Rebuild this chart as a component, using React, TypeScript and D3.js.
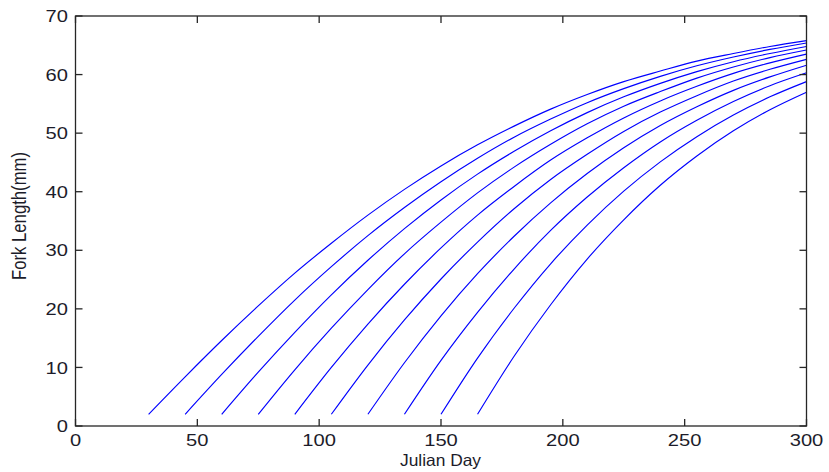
import React from "react";
import * as d3 from "d3";

// Julian day grid shared by all curves
const days = [30, 45, 60, 75, 90, 105, 120, 135, 150, 165, 180, 195, 210, 225, 240, 255, 270, 285, 300];

// Start day of each cohort
const startDays = [30, 45, 60, 75, 90, 105, 120, 135, 150, 165];

// Fork length (mm) of each cohort on the day grid, beginning at its start day
const cohort030 = [2, 8.4, 14.6, 20.5, 26.1, 31.2, 36.0, 40.4, 44.4, 48.0, 51.2, 54.1, 56.6, 58.8, 60.6, 62.3, 63.6, 64.8, 65.8];
const cohort045 = [2, 8.8, 15.3, 21.5, 27.2, 32.5, 37.3, 41.7, 45.7, 49.3, 52.4, 55.2, 57.6, 59.7, 61.5, 63.0, 64.3, 65.4];
const cohort060 = [2, 9.2, 16.0, 22.4, 28.3, 33.7, 38.6, 43.0, 46.9, 50.4, 53.5, 56.2, 58.5, 60.5, 62.2, 63.6, 64.8];
const cohort075 = [2, 9.6, 16.7, 23.3, 29.4, 34.8, 39.8, 44.2, 48.1, 51.6, 54.6, 57.1, 59.4, 61.3, 62.9, 64.2];
const cohort090 = [2, 10.0, 17.4, 24.2, 30.4, 36.0, 40.9, 45.4, 49.2, 52.6, 55.5, 58.0, 60.2, 62.0, 63.5];
const cohort105 = [2, 10.4, 18.1, 25.1, 31.4, 37.1, 42.1, 46.4, 50.3, 53.6, 56.4, 58.9, 60.9, 62.6];
const cohort120 = [2, 10.8, 18.8, 26.0, 32.4, 38.1, 43.1, 47.5, 51.3, 54.5, 57.3, 59.6, 61.6];
const cohort135 = [2, 11.2, 19.4, 26.8, 33.4, 39.1, 44.1, 48.5, 52.2, 55.4, 58.1, 60.3];
const cohort150 = [2, 11.6, 20.1, 27.7, 34.3, 40.1, 45.1, 49.4, 53.1, 56.2, 58.8];
const cohort165 = [2, 11.9, 20.7, 28.5, 35.2, 41.1, 46.1, 50.4, 54.0, 57.0];

const cohorts = [cohort030, cohort045, cohort060, cohort075, cohort090, cohort105, cohort120, cohort135, cohort150, cohort165];

const xTicks = [0, 50, 100, 150, 200, 250, 300];
const yTicks = [0, 10, 20, 30, 40, 50, 60, 70];

export default function App() {
  const W = 829, H = 472;
  const L = 75.5, R = 806.5, T = 16, B = 426;
  const x = d3.scaleLinear().domain([0, 300]).range([L, R]);
  const y = d3.scaleLinear().domain([0, 70]).range([B, T]);
  const line = d3
    .line<[number, number]>()
    .x((d) => x(d[0]))
    .y((d) => y(d[1]))
    .curve(d3.curveMonotoneX);
  const tickLen = 7;
  const axisColor = "#262626";
  const textColor = "#1c1c2a";
  const font = "'Liberation Sans', Arial, sans-serif";
  const digitW = 11.2;

  return (
    <svg width={W} height={H} style={{ position: "absolute", left: 0, top: 0, background: "#fff" }}>
      <rect x={0} y={0} width={W} height={H} fill="#fff" />
      {cohorts.map((vals, i) => {
        const startIdx = days.indexOf(startDays[i]);
        const pts: [number, number][] = vals.map((v, j) => [days[startIdx + j], v]);
        return <path key={i} d={line(pts) || ""} fill="none" stroke="#0000ff" strokeWidth={1.15} />;
      })}
      {/* box */}
      <rect x={L} y={T} width={R - L} height={B - T} fill="none" stroke={axisColor} strokeWidth={1.3} />
      {xTicks.map((t) => (
        <g key={"x" + t}>
          <line x1={x(t)} x2={x(t)} y1={B} y2={B - tickLen} stroke={axisColor} strokeWidth={1.3} />
          <line x1={x(t)} x2={x(t)} y1={T} y2={T + tickLen} stroke={axisColor} strokeWidth={1.3} />
          <text
            x={x(t) - (String(t).length * digitW) / 2}
            y={445.5}
            fontFamily={font}
            fontSize={17}
            textLength={String(t).length * digitW}
            lengthAdjust="spacingAndGlyphs"
            fill={textColor}
          >
            {t}
          </text>
        </g>
      ))}
      {yTicks.map((t) => (
        <g key={"y" + t}>
          <line x1={L} x2={L + tickLen} y1={y(t)} y2={y(t)} stroke={axisColor} strokeWidth={1.3} />
          <line x1={R} x2={R - tickLen} y1={y(t)} y2={y(t)} stroke={axisColor} strokeWidth={1.3} />
          <text
            x={68 - String(t).length * digitW}
            y={y(t) + 6.2}
            fontFamily={font}
            fontSize={17}
            textLength={String(t).length * digitW}
            lengthAdjust="spacingAndGlyphs"
            fill={textColor}
          >
            {t}
          </text>
        </g>
      ))}
      <text
        x={400}
        y={466}
        fontFamily={font}
        fontSize={16.5}
        textLength={81}
        lengthAdjust="spacingAndGlyphs"
        fill={textColor}
      >
        Julian Day
      </text>
      <text
        transform="translate(26,216) scale(1.18,1) rotate(-90)"
        textAnchor="middle"
        fontFamily={font}
        fontSize={17}
        textLength={128}
        lengthAdjust="spacingAndGlyphs"
        fill={textColor}
      >
        Fork Length(mm)
      </text>
    </svg>
  );
}
